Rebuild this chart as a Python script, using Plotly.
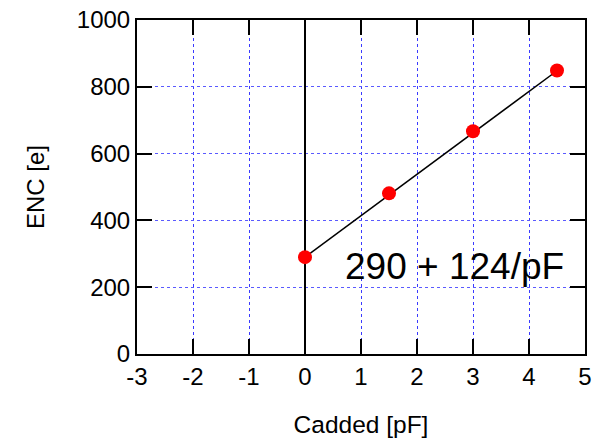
import plotly.graph_objects as go

c_added = [0, 1.5, 3, 4.5]
enc = [290, 481, 667, 849]
fit_x = [0, 4.5]
intercept = 290
slope = 124
fit_y = [intercept + slope * x for x in fit_x]
x_ticks = [-3, -2, -1, 0, 1, 2, 3, 4, 5]
x_labels = ["-3", "-2", "-1", "0", "1", "2", "3", "4", "5"]
y_ticks = [0, 200, 400, 600, 800, 1000]

font = "Liberation Sans, Arial, sans-serif"

fig = go.Figure()
fig.add_trace(go.Scatter(x=fit_x, y=fit_y, mode="lines",
                         line=dict(color="black", width=1.5), showlegend=False))
fig.add_trace(go.Scatter(x=c_added, y=enc, mode="markers",
                         marker=dict(color="red", size=14), showlegend=False))

fig.add_annotation(x=2.67, y=262, text="290 + 124/pF", showarrow=False,
                   font=dict(size=37, color="black", family=font))

axis_common = dict(showline=True, linecolor="black", linewidth=2, mirror="ticks",
                   ticks="inside", ticklen=15, tickwidth=2, tickcolor="black",
                   showgrid=True, griddash="3px,3px", gridwidth=1,
                   automargin=False,
                   tickfont=dict(size=24, color="black", family=font))

fig.update_xaxes(range=[-3, 5], tickvals=x_ticks, ticktext=x_labels, zeroline=True,
                 zerolinecolor="black", zerolinewidth=2, gridcolor="#3a3aff",
                 title=dict(text="Cadded [pF]", font=dict(size=24.5, color="black", family=font),
                            standoff=27),
                 **axis_common)
fig.update_yaxes(range=[0, 1000], tickvals=y_ticks, zeroline=False, gridcolor="#5a5aff",
                 title=dict(text="ENC [e]", font=dict(size=24, color="black", family=font),
                            standoff=25),
                 **axis_common)

fig.update_layout(width=593, height=441, margin=dict(l=137, r=8, t=20, b=87),
                  plot_bgcolor="white", paper_bgcolor="white",
                  font=dict(family=font, color="black"))

fig.write_html("out.html")
